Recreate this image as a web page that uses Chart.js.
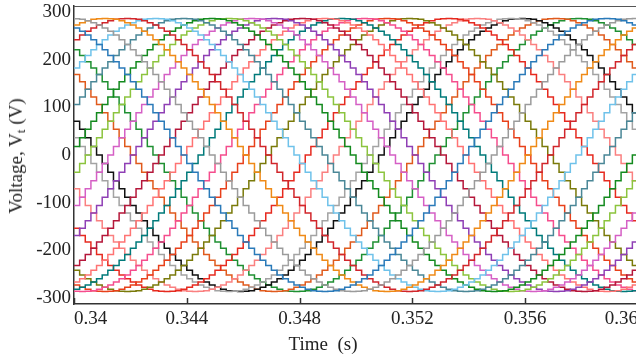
<!DOCTYPE html>
<html>
<head>
<meta charset="utf-8">
<script src="https://cdn.jsdelivr.net/npm/chart.js@4.4.1/dist/chart.umd.min.js"></script>
<style>
  html, body { margin: 0; padding: 0; background: #fff; overflow: hidden; }
  .wrap { position: relative; width: 660px; height: 357px; }
  .axis-title {
    position: absolute;
    font-family: "Liberation Serif", "Times New Roman", serif;
    font-size: 19px;
    color: #222;
    white-space: pre;
    transform: translate(-50%, -50%);
  }
  .y-title { left: 17px; top: 156px; transform: translate(-50%, -50%) rotate(-90deg); }
  .x-title { left: 323px; top: 344px; }
  sub { font-size: 13px; vertical-align: -3px; }
</style>
</head>
<body>
<div class="wrap">
  <canvas id="chart" width="660" height="357"></canvas>
  <div class="axis-title y-title">Voltage, V<sub>t</sub> (V)</div>
  <div class="axis-title x-title">Time  (s)</div>
</div>
<script>
// Axis ticks
const xTicks = [0.34, 0.344, 0.348, 0.352, 0.356, 0.36];
const yTicks = [-300, -200, -100, 0, 100, 200, 300];

// One cycle of the stepped phase voltage (V), one level every 0.2 ms, peak at index 25
const stepLevels = [
  0, 18, 36, 54, 71, 89, 106, 122, 138, 154,
  169, 183, 196, 209, 221, 232, 242, 252, 260, 267,
  273, 278, 282, 285, 286, 287, 286, 285, 282, 278,
  273, 267, 260, 252, 242, 232, 221, 209, 196, 183,
  169, 154, 138, 122, 106, 89, 71, 54, 36, 18,
  0, -18, -36, -54, -71, -89, -106, -122, -138, -154,
  -169, -183, -196, -209, -221, -232, -242, -252, -260, -267,
  -273, -278, -282, -285, -286, -287, -286, -285, -282, -278,
  -273, -267, -260, -252, -242, -232, -221, -209, -196, -183,
  -169, -154, -138, -122, -106, -89, -71, -54, -36, -18
];
const stepTime = 0.0002;

// Time at which each phase reaches its positive peak (s)
const peakTimes = [
  0.33884, 0.33972, 0.34095, 0.34187, 0.34289, 0.34377, 0.34490, 0.34547,
  0.34614, 0.34695, 0.34794, 0.34871, 0.34942, 0.35012, 0.35101, 0.35189,
  0.35330, 0.35418, 0.35548, 0.35584, 0.35693, 0.35788
];
const traceColors = [
  '#2a7ab9', '#9b9b9b', '#ef8a17', '#d1262b', '#6fc2ea', '#4a8797', '#138a1e', '#8cc43e',
  '#d55fc5', '#8f3fb5', '#b5173a', '#ff7373', '#007a7a', '#f54d8d', '#e8401a', '#7a7a0a',
  '#e62a1f', '#fa8080', '#a3a3a3', '#111111', '#e05a1c', '#1f9032'
];

const tStart = 0.34;
const nSteps = stepLevels.length;

const datasets = peakTimes.map((tp, i) => {
  const shift = Math.round((tp - tStart) / stepTime);
  const pts = [];
  for (let k = 0; k <= nSteps; k++) {
    const idx = (((k - shift + 25) % nSteps) + nSteps) % nSteps;
    pts.push({ x: +(tStart + k * stepTime).toFixed(5), y: stepLevels[idx] });
  }
  return {
    data: pts,
    borderColor: traceColors[i],
    borderWidth: 1.5,
    pointRadius: 0,
    stepped: 'before',
    fill: false
  };
});

// Box top edge and short inward ticks on the time axis
const frame = {
  id: 'frame',
  afterDraw(chart) {
    const { ctx, chartArea: a, scales } = chart;
    ctx.save();
    ctx.strokeStyle = '#555';
    ctx.lineWidth = 1;
    ctx.beginPath();
    ctx.moveTo(a.left, a.top + 0.5);
    ctx.lineTo(a.right, a.top + 0.5);
    ctx.stroke();
    ctx.strokeStyle = '#333';
    ctx.lineWidth = 1.5;
    xTicks.forEach(v => {
      const x = Math.round(scales.x.getPixelForValue(v)) + 0.5;
      ctx.beginPath();
      ctx.moveTo(x, a.bottom);
      ctx.lineTo(x, a.bottom - 6);
      ctx.stroke();
    });
    ctx.restore();
  }
};

const tickFont = { family: '"Liberation Serif", "Times New Roman", serif', size: 19 };

new Chart(document.getElementById('chart'), {
  type: 'line',
  data: { datasets },
  options: {
    responsive: false,
    animation: false,
    layout: { padding: { left: 0, top: 6, right: 22, bottom: 0 } },
    plugins: { legend: { display: false }, tooltip: { enabled: false } },
    scales: {
      x: {
        type: 'linear',
        min: 0.34,
        max: 0.36,
        afterBuildTicks: s => { s.ticks = xTicks.map(v => ({ value: v })); },
        afterFit: s => { s.height = 53; s.paddingLeft = 0; s.paddingRight = 0; },
        grid: { display: true, drawOnChartArea: false, drawTicks: false },
        border: { display: true, color: '#333', width: 1.5 },
        ticks: { color: '#222', font: tickFont, padding: 4, align: 'inner', maxRotation: 0, autoSkip: false, callback: v => String(v) }
      },
      y: {
        min: -313,
        max: 313,
        afterBuildTicks: s => { s.ticks = yTicks.map(v => ({ value: v })); },
        afterFit: s => { s.width = 74; s.paddingTop = 0; s.paddingBottom = 0; },
        grid: { display: false, drawTicks: false },
        border: { display: true, color: '#333', width: 1.5 },
        ticks: { color: '#222', font: tickFont, padding: 3, callback: v => String(v) }
      }
    }
  },
  plugins: [frame]
});
</script>
</body>
</html>
